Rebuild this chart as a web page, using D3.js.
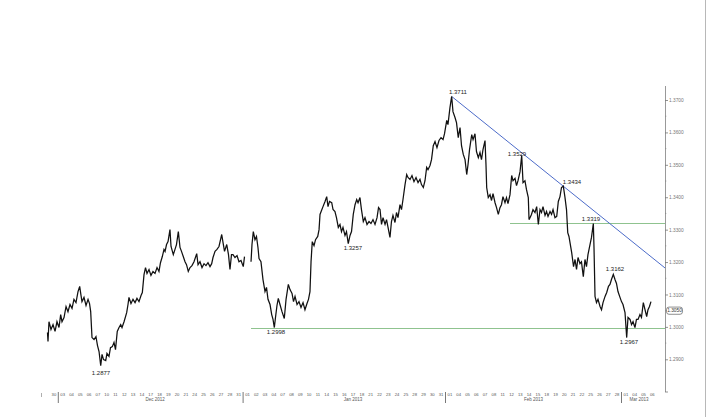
<!DOCTYPE html>
<html><head><meta charset="utf-8">
<script src="https://cdn.jsdelivr.net/npm/d3@7"></script>
<style>
body{margin:0;background:#fff;}
svg{display:block;font-family:"Liberation Sans",Arial,sans-serif;}
</style>
</head><body>
<svg id="c" width="716" height="417"></svg>
<script>
// ---------------- DATA ----------------
// trading-day labels (index 0 = Nov 30 2012)
const tradingDays = [
 "30",
 "03","04","05","06","07","10","11","12","13","14","17","18","19","20","21","24","25","26","27","28","31",
 "01","02","03","04","07","08","09","10","11","14","15","16","17","18","21","22","23","24","25","28","29","30","31",
 "01","04","05","06","07","08","11","12","13","14","15","18","19","20","21","22","25","26","27","28",
 "01","04","05","06"];
const monthLabels = ["Dec 2012","Jan 2013","Feb 2013","Mar 2013"];
const monthStartIdx = [1,22,45,65];
const monthLabelAt = [12,34.5,55,67];
const yTicks = [1.29,1.30,1.31,1.32,1.33,1.34,1.35,1.36,1.37];
const holidayGaps = [22.5];

// price series: [trading-day position, price]
const seriesDec = [[-0.23,1.2983],[-0.17,1.2955],[-0.06,1.3016],[0.17,1.2992],[0.40,1.3007],[0.63,1.2986],[0.85,1.3016],[1.08,1.2998],[1.27,1.3038],[1.42,1.3016],[1.65,1.3029],[1.88,1.3063],[2.10,1.3047],[2.33,1.3069],[2.56,1.3057],[2.78,1.3085],[3.01,1.3075],[3.24,1.3109],[3.43,1.3125],[3.58,1.3097],[3.69,1.3078],[3.92,1.3091],[4.15,1.3066],[4.38,1.3085],[4.55,1.3072],[4.68,1.3047],[4.83,1.2967],[5.06,1.2961],[5.28,1.2970],[5.45,1.2943],[5.63,1.2924],[5.82,1.2880],[5.97,1.2915],[6.14,1.2899],[6.39,1.2896],[6.53,1.2918],[6.76,1.2909],[6.93,1.2936],[7.14,1.2939],[7.33,1.2952],[7.50,1.2930],[7.70,1.2986],[7.90,1.2998],[8.09,1.3007],[8.24,1.2998],[8.47,1.3016],[8.77,1.3044],[8.92,1.3069],[9.03,1.3091],[9.26,1.3072],[9.49,1.3085],[9.72,1.3075],[9.94,1.3088],[10.17,1.3078],[10.40,1.3097],[10.55,1.3106],[10.74,1.3161],[10.91,1.3183],[11.08,1.3165],[11.31,1.3177],[11.53,1.3159],[11.76,1.3171],[11.99,1.3165],[12.22,1.3183],[12.44,1.3171],[12.61,1.3198],[12.82,1.3217],[13.01,1.3239],[13.13,1.3233],[13.30,1.3254],[13.47,1.3263],[13.69,1.3300],[13.81,1.3248],[14.07,1.3223],[14.26,1.3239],[14.43,1.3254],[14.64,1.3294],[14.83,1.3245],[15.00,1.3233],[15.20,1.3217],[15.40,1.3201],[15.57,1.3192],[15.77,1.3171],[15.97,1.3183],[16.19,1.3189],[16.42,1.3201],[16.73,1.3226],[16.88,1.3192],[17.10,1.3201],[17.33,1.3183],[17.56,1.3195],[17.78,1.3189],[18.01,1.3198],[18.24,1.3186],[18.43,1.3195],[18.58,1.3214],[18.81,1.3233],[19.03,1.3239],[19.26,1.3248],[19.57,1.3285],[19.72,1.3260],[19.89,1.3233],[20.14,1.3254],[20.34,1.3223],[20.51,1.3177],[20.68,1.3223],[20.85,1.3223],[21.08,1.3214],[21.31,1.3220],[21.53,1.3201],[21.76,1.3205]];
const seriesJan = [[22.02,1.3186],[22.16,1.3217],[22.90,1.3201],[23.01,1.3254],[23.16,1.3294],[23.35,1.3269],[23.52,1.3279],[23.69,1.3245],[23.81,1.3211],[24.03,1.3201],[24.26,1.3146],[24.49,1.3109],[24.66,1.3122],[24.83,1.3085],[25.06,1.3069],[25.25,1.3038],[25.40,1.3023],[25.55,1.2998],[25.68,1.3029],[25.85,1.3066],[26.00,1.3088],[26.19,1.3069],[26.42,1.3047],[26.68,1.3026],[26.88,1.3085],[27.14,1.3131],[27.33,1.3115],[27.56,1.3103],[27.73,1.3078],[27.90,1.3094],[28.13,1.3069],[28.35,1.3078],[28.58,1.3060],[28.81,1.3075],[29.03,1.3053],[29.26,1.3072],[29.43,1.3085],[29.60,1.3109],[29.72,1.3201],[29.86,1.3263],[30.06,1.3251],[30.23,1.3269],[30.48,1.3279],[30.63,1.3300],[30.74,1.3347],[30.91,1.3359],[31.08,1.3371],[31.31,1.3387],[31.50,1.3402],[31.65,1.3371],[31.82,1.3387],[32.07,1.3383],[32.22,1.3362],[32.44,1.3356],[32.61,1.3337],[32.82,1.3307],[33.01,1.3316],[33.18,1.3294],[33.35,1.3307],[33.58,1.3282],[33.75,1.3294],[33.95,1.3257],[34.15,1.3282],[34.32,1.3294],[34.52,1.3347],[34.72,1.3377],[34.91,1.3393],[35.06,1.3383],[35.28,1.3399],[35.45,1.3362],[35.66,1.3325],[35.85,1.3337],[36.08,1.3316],[36.31,1.3325],[36.53,1.3319],[36.76,1.3331],[36.99,1.3316],[37.22,1.3337],[37.39,1.3368],[37.56,1.3362],[37.73,1.3316],[37.90,1.3337],[38.13,1.3316],[38.30,1.3331],[38.47,1.3307],[38.69,1.3276],[38.86,1.3325],[39.03,1.3344],[39.26,1.3322],[39.43,1.3353],[39.60,1.3337],[39.83,1.3377],[40.00,1.3362],[40.17,1.3393],[40.40,1.3439],[40.59,1.3470],[40.74,1.3461],[40.97,1.3455],[41.19,1.3467],[41.42,1.3448],[41.65,1.3461],[41.88,1.3445],[42.10,1.3455],[42.27,1.3439],[42.48,1.3430],[42.67,1.3451],[42.86,1.3492],[43.01,1.3485],[43.24,1.3498],[43.41,1.3516],[43.61,1.3559],[43.81,1.3572],[44.03,1.3553],[44.26,1.3575],[44.49,1.3584],[44.72,1.3578],[44.89,1.3596]];
const seriesFeb = [[45.14,1.3637],[45.28,1.3624],[45.51,1.3677],[45.70,1.3711],[45.85,1.3664],[46.08,1.3646],[46.25,1.3630],[46.45,1.3584],[46.65,1.3615],[46.82,1.3559],[47.02,1.3532],[47.22,1.3516],[47.41,1.3470],[47.56,1.3501],[47.73,1.3547],[47.98,1.3593],[48.13,1.3578],[48.35,1.3596],[48.52,1.3541],[48.73,1.3522],[48.92,1.3538],[49.09,1.3516],[49.26,1.3547],[49.49,1.3575],[49.60,1.3501],[49.68,1.3430],[49.86,1.3399],[50.06,1.3408],[50.23,1.3390],[50.40,1.3411],[50.63,1.3383],[50.80,1.3368],[51.00,1.3347],[51.19,1.3368],[51.36,1.3377],[51.53,1.3402],[51.76,1.3383],[51.93,1.3399],[52.10,1.3380],[52.33,1.3408],[52.52,1.3467],[52.67,1.3451],[52.90,1.3458],[53.07,1.3436],[53.24,1.3451],[53.47,1.3479],[53.66,1.3529],[53.81,1.3445],[54.03,1.3451],[54.20,1.3424],[54.41,1.3399],[54.49,1.3331],[54.60,1.3337],[54.77,1.3347],[54.94,1.3362],[55.17,1.3353],[55.36,1.3371],[55.55,1.3316],[55.74,1.3362],[55.91,1.3353],[56.08,1.3371],[56.31,1.3344],[56.48,1.3356],[56.65,1.3341],[56.88,1.3356],[57.05,1.3347],[57.22,1.3362],[57.44,1.3337],[57.64,1.3341],[57.82,1.3387],[58.01,1.3402],[58.18,1.3430],[58.39,1.3434],[58.58,1.3399],[58.75,1.3362],[58.89,1.3291],[59.03,1.3279],[59.34,1.3229],[59.55,1.3186],[59.72,1.3208],[59.89,1.3177],[60.06,1.3214],[60.28,1.3195],[60.45,1.3201],[60.66,1.3155],[60.85,1.3208],[61.02,1.3186],[61.19,1.3223],[61.42,1.3254],[61.59,1.3276],[61.80,1.3319],[61.88,1.3239],[61.99,1.3094],[62.16,1.3075],[62.33,1.3085],[62.56,1.3063],[62.73,1.3053],[62.90,1.3075],[63.13,1.3094],[63.32,1.3106],[63.52,1.3125],[63.69,1.3131],[63.86,1.3146],[64.07,1.3162],[64.26,1.3146],[64.43,1.3134],[64.60,1.3109],[64.83,1.3091]];
const seriesMar = [[65.00,1.3078],[65.17,1.3069],[65.40,1.3044],[65.59,1.2967],[65.74,1.3029],[65.97,1.3023],[66.14,1.3007],[66.31,1.3016],[66.53,1.2998],[66.70,1.3023],[66.88,1.3023],[67.10,1.3038],[67.27,1.3029],[67.48,1.3075],[67.67,1.3053],[67.86,1.3032],[68.01,1.3053],[68.18,1.3063],[68.35,1.3078]];

// annotated highs / lows: [label, day position, price]
const annotations = [["1.3711",45.70,1.3711],["1.3529",53.66,1.3529],["1.3434",58.39,1.3434],["1.3319",61.80,1.3319],["1.3162",64.07,1.3162],["1.2967",65.59,1.2967],["1.3257",33.95,1.3257],["1.2998",25.55,1.2998],["1.2877",5.82,1.2880]];
// support lines: [price, start day position]
const supports = [[1.2998,22.9],[1.3319,52.3]];
// resistance trend line through two highs: [day, price]
const trendPts = [[45.70,1.3711],[58.39,1.3434]];
const lastQuote = 1.3050;

// ---------------- LAYOUT ----------------
const svg = d3.select("#c");
const axisX = 665, axisTop = 86, axisBottom = 392;
const x = d3.scaleLinear().domain([0,69]).range([49.5,656.7]);
const y = d3.scaleLinear().domain([1.29,1.37]).range([359.3,100]);

// right frame line
svg.append("line").attr("x1",705.5).attr("x2",705.5).attr("y1",0).attr("y2",417)
  .attr("stroke","#b8b8b8").attr("stroke-width",1).attr("shape-rendering","crispEdges");

// support lines
supports.forEach(([p,t])=>{
  const yy = Math.round(y(p))+0.5;
  svg.append("line").attr("x1",x(t)).attr("x2",axisX).attr("y1",yy).attr("y2",yy)
    .attr("stroke","#8fc38f").attr("stroke-width",1).attr("shape-rendering","crispEdges");
});

// trend line
const slope = (trendPts[1][1]-trendPts[0][1])/(trendPts[1][0]-trendPts[0][0]);
const tEnd = x.invert(axisX);
svg.append("line")
  .attr("x1",x(trendPts[0][0])).attr("y1",y(trendPts[0][1]))
  .attr("x2",x(tEnd)).attr("y2",y(trendPts[0][1]+slope*(tEnd-trendPts[0][0])))
  .attr("stroke","#4d6cc9").attr("stroke-width",1);

// price line (split at holiday gaps)
const all = seriesDec.concat(seriesJan, seriesFeb, seriesMar);
const segs = [];
let cur = [];
all.forEach(d=>{
  if (cur.length && holidayGaps.some(g=>cur[cur.length-1][0]<g && d[0]>g)) { segs.push(cur); cur=[]; }
  cur.push(d);
});
segs.push(cur);
const line = d3.line().x(d=>x(d[0])).y(d=>y(d[1]));
segs.forEach(s=>{
  svg.append("path").attr("d",line(s)).attr("fill","none")
    .attr("stroke","#111").attr("stroke-width",1.25).attr("stroke-linejoin","miter");
});

// annotation labels
const annOffsets = [[6.3,-2.7],[-4.7,1],[8.7,-2.3],[-2.3,-2.8],[1.7,-3.6],[2.3,6.2],[4.7,6.2],[1.7,6.2],[0.3,9]];
annotations.forEach(([lab,t,p],i)=>{
  svg.append("text").attr("x",x(t)+annOffsets[i][0]).attr("y",y(p)+annOffsets[i][1])
    .attr("text-anchor","middle").attr("font-size",6).attr("fill","#222").text(lab);
});

// y axis
svg.append("line").attr("x1",axisX+0.5).attr("x2",axisX+0.5).attr("y1",axisTop).attr("y2",axisBottom)
  .attr("stroke","#999").attr("stroke-width",1).attr("shape-rendering","crispEdges");
const yAxis = d3.axisRight(y).tickValues(yTicks).tickFormat(d3.format(".4f")).tickSize(3).tickPadding(1);
const gy = svg.append("g").attr("transform",`translate(${axisX},0)`).call(yAxis);
gy.select(".domain").remove();
gy.selectAll(".tick line").attr("stroke","#777").attr("stroke-width",0.8);
gy.selectAll(".tick text").attr("font-size",4.8).attr("fill","#777")
  .attr("font-family","'Liberation Sans',Arial,sans-serif");
// minor ticks
yTicks.slice(0,-1).forEach(v=>{
  svg.append("line").attr("x1",axisX).attr("x2",axisX+1.3).attr("y1",y(v+0.005)).attr("y2",y(v+0.005))
    .attr("stroke","#888").attr("stroke-width",0.8);
});
svg.append("line").attr("x1",axisX).attr("x2",axisX+3).attr("y1",axisBottom).attr("y2",axisBottom)
  .attr("stroke","#777").attr("stroke-width",0.8);

// last quote box
const qy = y(lastQuote);
svg.append("rect").attr("x",axisX+1.5).attr("y",qy-3.6).attr("width",16).attr("height",7.2)
  .attr("rx",2.5).attr("fill","#fff").attr("stroke","#444").attr("stroke-width",0.6);
svg.append("text").attr("x",axisX+9.5).attr("y",qy+1.7).attr("text-anchor","middle")
  .attr("font-size",4.8).attr("fill","#333").text(d3.format(".4f")(lastQuote));

// x axis day labels
tradingDays.forEach((lab,i)=>{
  svg.append("text").attr("x",x(i+0.5)).attr("y",axisBottom+4.2).attr("text-anchor","middle")
    .attr("font-size",4.2).attr("fill","#555").text(lab);
});
// month separators
monthStartIdx.forEach(i=>{
  svg.append("line").attr("x1",x(i)).attr("x2",x(i)).attr("y1",axisBottom).attr("y2",axisBottom+11)
    .attr("stroke","#555").attr("stroke-width",0.8);
});
svg.append("line").attr("x1",41.5).attr("x2",41.5).attr("y1",axisBottom+1).attr("y2",axisBottom+5)
  .attr("stroke","#777").attr("stroke-width",0.6);
// month labels
monthLabels.forEach((lab,i)=>{
  svg.append("text").attr("x",x(monthLabelAt[i])).attr("y",axisBottom+8.8).attr("text-anchor","middle")
    .attr("font-size",4.5).attr("fill","#555").text(lab);
});
</script>
</body></html>
